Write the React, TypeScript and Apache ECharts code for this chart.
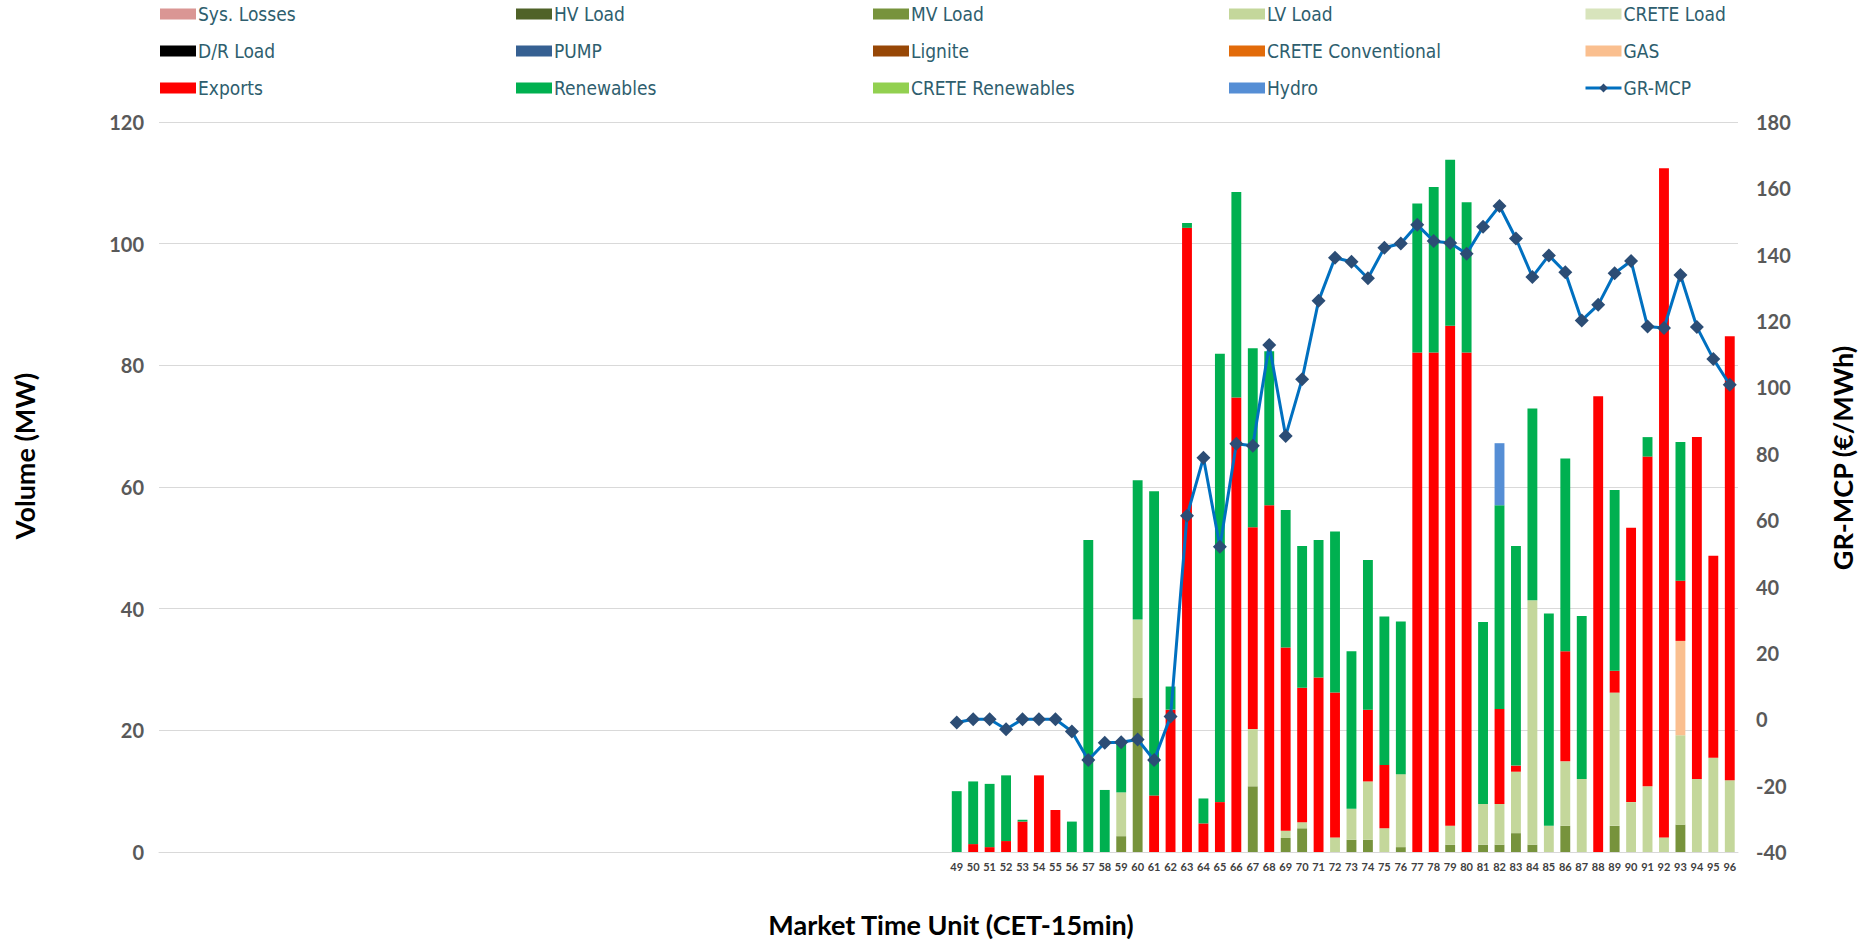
import React, { useEffect, useRef } from "react";
import * as echarts from "echarts";

// Market time units 1..96 (only 49..96 carry data / labels)
const mtu: string[] = Array.from({ length: 96 }, (_, i) => String(i + 1));
const FIRST_LABELLED = 49;

// Values for MTU 49..96 (48 entries each), MW
const sysLosses: (number | null)[] = [];
const hvLoad: (number | null)[] = [];
const mvLoad = [0, 0, 0, 0, 0, 0, 0, 0, 0, 0, 2.6, 25.3, 0, 0, 0, 0, 0, 0, 10.8, 0, 2.3, 3.9, 0, 0, 2.0, 2.0, 0, 0.8, 0, 0, 1.2, 0, 1.2, 1.2, 3.1, 1.2, 0, 4.3, 0, 0, 4.3, 0, 0, 0, 4.5, 0, 0, 0];
const lvLoad = [0, 0, 0, 0, 0, 0, 0, 0, 0, 0, 7.2, 12.9, 0, 0, 0, 0, 0, 0, 9.4, 0, 1.2, 1.0, 0, 2.4, 5.1, 9.6, 3.9, 12.0, 0, 0, 3.1, 0, 6.7, 6.7, 10.1, 40.2, 4.3, 10.6, 12.0, 0, 21.9, 8.2, 10.8, 2.4, 14.7, 12.0, 15.5, 11.8];
const creteLoad: (number | null)[] = [];
const drLoad: (number | null)[] = [];
const pump: (number | null)[] = [];
const lignite: (number | null)[] = [];
const creteConventional: (number | null)[] = [];
const gas = [0, 0, 0, 0, 0, 0, 0, 0, 0, 0, 0, 0, 0, 0, 0, 0, 0, 0, 0, 0, 0, 0, 0, 0, 0, 0, 0, 0, 0, 0, 0, 0, 0, 0, 0, 0, 0, 0, 0, 0, 0, 0, 0, 0, 15.5, 0, 0, 0];
const exportsMW = [0, 1.3, 0.8, 1.8, 5.0, 12.6, 6.9, 0, 0, 0, 0, 0, 9.3, 23.4, 102.6, 4.7, 8.2, 74.7, 33.2, 57.0, 30.1, 22.1, 28.7, 23.8, 0, 11.8, 10.4, 0, 82.1, 82.1, 82.2, 82.1, 0, 15.6, 1.0, 0, 0, 18.1, 0, 74.9, 3.6, 45.1, 54.2, 110.0, 9.9, 56.2, 33.2, 73.0];
const renewables = [10.0, 10.3, 10.4, 10.8, 0.3, 0, 0, 5.0, 51.3, 10.2, 8.5, 22.9, 50.0, 3.8, 0.8, 4.1, 73.7, 33.8, 29.4, 25.3, 22.6, 23.3, 22.6, 26.5, 25.9, 24.6, 24.4, 25.1, 24.5, 27.2, 27.3, 24.7, 29.9, 33.5, 36.1, 31.5, 34.9, 31.7, 26.8, 0, 29.7, 0, 3.2, 0, 22.8, 0, 0, 0];
const creteRenewables: (number | null)[] = [];
const hydro = [0, 0, 0, 0, 0, 0, 0, 0, 0, 0, 0, 0, 0, 0, 0, 0, 0, 0, 0, 0, 0, 0, 0, 0, 0, 0, 0, 0, 0, 0, 0, 0, 0, 10.2, 0, 0, 0, 0, 0, 0, 0, 0, 0, 0, 0, 0, 0, 0];
// GR-MCP, €/MWh
const grMcp = [-1.0, 0.0, 0.0, -3.0, 0.0, 0.0, 0.0, -3.7, -12.3, -7.1, -6.9, -6.1, -12.3, 0.8, 61.3, 78.8, 52.0, 83.0, 82.4, 112.8, 85.4, 102.5, 126.1, 139.1, 137.9, 132.9, 142.1, 143.4, 149.0, 144.1, 143.5, 140.3, 148.4, 154.7, 144.9, 133.3, 139.8, 134.7, 120.2, 124.9, 134.4, 138.1, 118.4, 117.9, 133.9, 118.2, 108.6, 100.8];

const barSeries: { name: string; color: string; values: (number | null)[] }[] = [
  { name: "Sys. Losses", color: "#DA9694", values: sysLosses },
  { name: "HV Load", color: "#4F6228", values: hvLoad },
  { name: "MV Load", color: "#77933C", values: mvLoad },
  { name: "LV Load", color: "#C4D79B", values: lvLoad },
  { name: "CRETE Load", color: "#D8E4BC", values: creteLoad },
  { name: "D/R Load", color: "#000000", values: drLoad },
  { name: "PUMP", color: "#366092", values: pump },
  { name: "Lignite", color: "#974706", values: lignite },
  { name: "CRETE Conventional", color: "#E26B0A", values: creteConventional },
  { name: "GAS", color: "#FABF8F", values: gas },
  { name: "Exports", color: "#FF0000", values: exportsMW },
  { name: "Renewables", color: "#00B050", values: renewables },
  { name: "CRETE Renewables", color: "#92D050", values: creteRenewables },
  { name: "Hydro", color: "#558ED5", values: hydro },
];

const legendColumns: string[][] = [
  ["Sys. Losses", "D/R Load", "Exports"],
  ["HV Load", "PUMP", "Renewables"],
  ["MV Load", "Lignite", "CRETE Renewables"],
  ["LV Load", "CRETE Conventional", "Hydro"],
  ["CRETE Load", "GAS", "GR-MCP"],
];
const legendLefts = [155, 511, 868, 1224, 1579];

const pad = (arr: (number | null)[]) => {
  const out: (number | null)[] = new Array(FIRST_LABELLED - 1).fill(null);
  for (let i = 0; i < 96 - (FIRST_LABELLED - 1); i++) {
    const v = arr[i];
    out.push(v === undefined || v === 0 ? null : v);
  }
  return out;
};

const padLine = (arr: number[]) => {
  const out: (number | null)[] = new Array(FIRST_LABELLED - 1).fill(null);
  return out.concat(arr);
};

const tickFont = "Lato, 'DejaVu Sans', sans-serif";

export default function App() {
  const ref = useRef<HTMLDivElement>(null);
  useEffect(() => {
    if (!ref.current) return;
    const chart = echarts.init(ref.current, undefined, { renderer: "svg" });
    const series: any[] = barSeries.map((s) => ({
      name: s.name,
      type: "bar",
      stack: "total",
      barWidth: "60%",
      itemStyle: { color: s.color },
      data: pad(s.values),
    }));
    series.push({
      name: "GR-MCP",
      type: "line",
      yAxisIndex: 1,
      symbol: "diamond",
      symbolSize: 14,
      z: 10,
      itemStyle: { color: "#2C4D75" },
      lineStyle: { color: "#0070C0", width: 3 },
      data: padLine(grMcp),
    });
    chart.setOption({
      animation: false,
      backgroundColor: "#ffffff",
      legend: legendColumns.map((col, ci) => ({
        orient: "vertical",
        left: legendLefts[ci],
        top: -1,
        itemWidth: 36,
        itemHeight: 11,
        itemGap: 17,
        data: col.map((n) =>
          n === "GR-MCP"
            ? { name: n, lineStyle: { width: 3, color: "#0070C0" }, itemStyle: { color: "#2C4D75" } }
            : { name: n, icon: "rect" }
        ),
        textStyle: {
          color: "#2E5E6E",
          fontSize: 19,
          lineHeight: 20,
          fontFamily: "'Liberation Sans Narrow', 'DejaVu Sans Condensed', sans-serif",
          padding: [0, 0, 0, -3],
        },
        selectedMode: false,
      })),
      grid: { left: 159, right: 137, top: 122, bottom: 89 },
      xAxis: {
        type: "category",
        data: mtu,
        axisLine: { lineStyle: { color: "#D9D9D9", width: 1 } },
        axisTick: { show: false },
        axisLabel: {
          interval: 0,
          margin: 9,
          color: "#404040",
          fontSize: 11,
          fontWeight: "bold",
          fontFamily: tickFont,
          formatter: (v: string) => (Number(v) >= FIRST_LABELLED ? v : ""),
        },
      },
      yAxis: [
        {
          type: "value",
          min: 0,
          max: 120,
          interval: 20,
          axisLine: { show: false },
          axisTick: { show: false },
          splitLine: { lineStyle: { color: "#D9D9D9", width: 1 } },
          axisLabel: { color: "#595959", fontSize: 20, fontWeight: "bold", fontFamily: tickFont, margin: 15 },
        },
        {
          type: "value",
          min: -40,
          max: 180,
          interval: 20,
          axisLine: { show: false },
          axisTick: { show: false },
          splitLine: { show: false },
          axisLabel: { color: "#595959", fontSize: 20, fontWeight: "bold", fontFamily: tickFont, margin: 18 },
        },
      ],
      graphic: [
        {
          type: "text",
          x: 24,
          y: 456,
          rotation: Math.PI / 2,
          style: {
            text: "Volume (MW)",
            fill: "#000000",
            font: `bold 27px ${tickFont}`,
            align: "center",
            verticalAlign: "middle",
          },
        },
        {
          type: "text",
          x: 1842,
          y: 458,
          rotation: Math.PI / 2,
          style: {
            text: "GR-MCP (€/MWh)",
            fill: "#000000",
            font: `bold 27px ${tickFont}`,
            align: "center",
            verticalAlign: "middle",
          },
        },
        {
          type: "text",
          x: 951,
          y: 924,
          style: {
            text: "Market Time Unit (CET-15min)",
            fill: "#000000",
            font: `bold 27px ${tickFont}`,
            align: "center",
            verticalAlign: "middle",
          },
        },
      ],
      series,
    });
    return () => chart.dispose();
  }, []);
  return (
    <div
      ref={ref}
      style={{ position: "fixed", left: 0, top: 0, width: 1875, height: 941, background: "#fff" }}
    />
  );
}
